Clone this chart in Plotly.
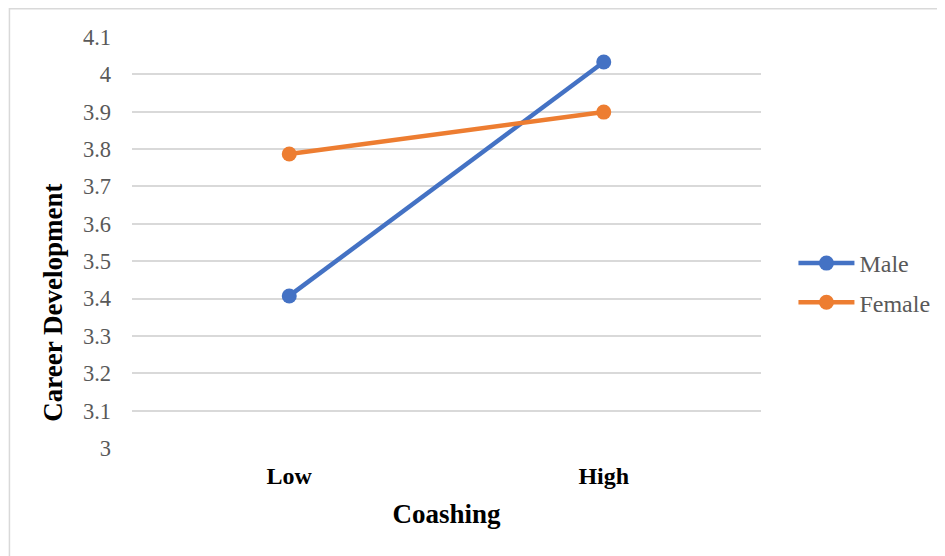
import plotly.graph_objects as go

categories = ["Low", "High"]
male = [3.407, 4.033]
female = [3.787, 3.899]
y_ticks = [3, 3.1, 3.2, 3.3, 3.4, 3.5, 3.6, 3.7, 3.8, 3.9, 4, 4.1]
y_tick_labels = ["3", "3.1", "3.2", "3.3", "3.4", "3.5", "3.6", "3.7", "3.8", "3.9", "4", "4.1"]

BLUE = "#4472C4"
ORANGE = "#ED7D31"
FONT = "Liberation Serif, Times New Roman, serif"

fig = go.Figure()
fig.add_trace(go.Scatter(x=categories, y=male, name="Male", mode="lines+markers", legendgroup="m",
                         line=dict(color=BLUE, width=4.5), marker=dict(size=15, color=BLUE)))
fig.add_trace(go.Scatter(x=categories, y=female, name="Female", mode="lines+markers", legendgroup="f",
                         line=dict(color=ORANGE, width=4.5), marker=dict(size=15, color=ORANGE)))

W, H = 945, 556
# figure-pixel coordinates (page has an 8px body margin)
L, R, T, B = 123.5, 191.5, 29, 116
pw, ph = W - L - R, H - T - B

def px_x(x):
    return (x - L) / pw

def px_y(y):
    return (H - B - y) / ph

fig.update_layout(
    width=W, height=H,
    margin=dict(l=L, r=R, t=T, b=B),
    paper_bgcolor="white", plot_bgcolor="white",
    font=dict(family=FONT, color="#595959", size=22),
    xaxis=dict(
        type="category", range=[-0.5, 1.5], showgrid=False, zeroline=False,
        showline=False, ticks="",
        tickfont=dict(family=FONT, size=24, color="black", weight="bold"),
        ticklabelstandoff=11,
        title=dict(text="<b>Coashing</b>", font=dict(family=FONT, size=27, color="black"), standoff=16),
    ),
    yaxis=dict(
        range=[3, 4.1], tickvals=y_ticks, ticktext=y_tick_labels,
        showgrid=True, gridcolor="#D9D9D9", gridwidth=1.5, zeroline=False,
        showline=False, ticks="",
        tickfont=dict(family=FONT, size=22.5, color="#595959"),
        ticklabelstandoff=20,
    ),
    showlegend=True,
    legend=dict(x=px_x(786), y=px_y(233), xanchor="left", yanchor="top",
                font=dict(family=FONT, size=24, color="#595959"),
                bgcolor="rgba(0,0,0,0)", traceorder="grouped", tracegroupgap=5,
                itemwidth=56),
    shapes=[dict(type="rect", xref="paper", yref="paper",
                 x0=px_x(0.75), x1=px_x(936.5), y0=px_y(570), y1=px_y(0.75),
                 line=dict(color="#D9D9D9", width=1.5), fillcolor="rgba(0,0,0,0)", layer="below")],
    annotations=[dict(text="<b>Career Development</b>", xref="paper", yref="paper",
                      x=px_x(44), y=px_y(295), textangle=-90, showarrow=False,
                      font=dict(family=FONT, size=27, color="black"),
                      xanchor="center", yanchor="middle")],
)

fig.write_html("out.html")
